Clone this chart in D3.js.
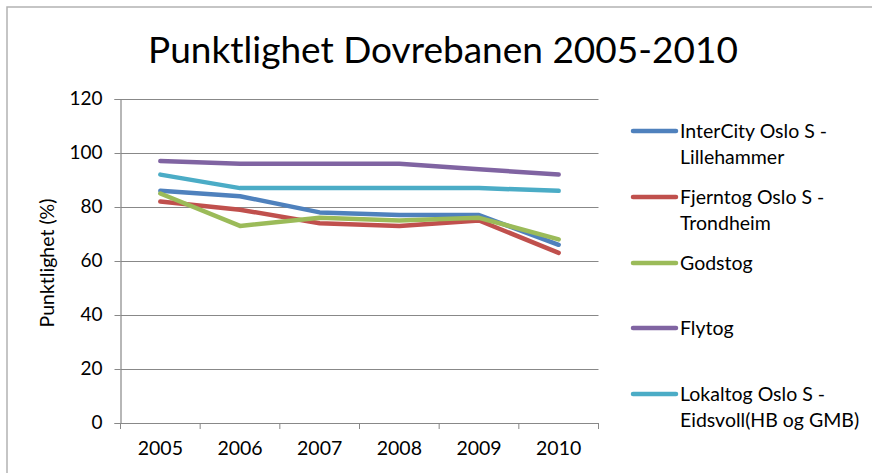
<!DOCTYPE html>
<html>
<head>
<meta charset="utf-8">
<script src="https://cdn.jsdelivr.net/npm/d3@7"></script>
<style>
  body { margin: 0; background: #fff; }
  text { font-family: Lato, "Open Sans", sans-serif; fill: #000; }
</style>
</head>
<body>
<div id="chart"></div>
<script>
// data
const years = ["2005", "2006", "2007", "2008", "2009", "2010"];
const seriesNames = [
  ["InterCity Oslo S -", "Lillehammer"],
  ["Fjerntog Oslo S -", "Trondheim"],
  ["Godstog"],
  ["Flytog"],
  ["Lokaltog Oslo S -", "Eidsvoll(HB og GMB)"]
];
const interCity = [86, 84, 78, 77, 77, 66];
const fjerntog = [82, 79, 74, 73, 75, 63];
const godstog = [85, 73, 76, 75, 76, 68];
const flytog = [97, 96, 96, 96, 94, 92];
const lokaltog = [92, 87, 87, 87, 87, 86];
const yTicks = [0, 20, 40, 60, 80, 100, 120];

const allSeries = [interCity, fjerntog, godstog, flytog, lokaltog];
const colors = ["#4F81BD", "#C0504D", "#9BBB59", "#8064A2", "#4BACC6"];

const width = 872, height = 473;
const plot = { left: 120.5, right: 598.5, top: 99, bottom: 423 };

const svg = d3.select("#chart").append("svg")
  .attr("width", width)
  .attr("height", height);

// outer chart border (runs off the right and bottom)
svg.append("rect")
  .attr("x", 7).attr("y", 7)
  .attr("width", width + 20).attr("height", height + 20)
  .attr("fill", "none")
  .attr("stroke", "#b3b3b3")
  .attr("stroke-width", 1.5);

const x = d3.scaleBand().domain(years).range([plot.left, plot.right]);
const y = d3.scaleLinear().domain([0, 120]).range([plot.bottom, plot.top]);

// gridlines
svg.append("g").selectAll("line")
  .data(yTicks.filter(d => d > 0))
  .join("line")
  .attr("x1", plot.left).attr("x2", plot.right)
  .attr("y1", d => Math.round(y(d)) + 0.5).attr("y2", d => Math.round(y(d)) + 0.5)
  .attr("stroke", "#888").attr("stroke-width", 1);

// y axis
const yAxis = svg.append("g")
  .attr("transform", "translate(" + plot.left + ",0)")
  .call(d3.axisLeft(y).tickValues(yTicks).tickSize(6).tickPadding(12));
yAxis.select(".domain").attr("stroke", "#888").attr("stroke-width", 1.2);
yAxis.selectAll(".tick line").attr("stroke", "#888");
yAxis.selectAll(".tick text").style("font-size", "19px").attr("fill", "#000").attr("dy", "0.28em");

// x axis
const xAxis = svg.append("g")
  .attr("transform", "translate(0," + plot.bottom + ")")
  .call(d3.axisBottom(x).tickSize(0).tickPadding(18));
xAxis.select(".domain").attr("stroke", "#888").attr("stroke-width", 1.2);
xAxis.selectAll(".tick text").style("font-size", "19.5px").attr("fill", "#000");
// band boundary ticks
xAxis.append("g").selectAll("line")
  .data(years.concat(["end"]))
  .join("line")
  .attr("x1", (d, i) => i < years.length ? x(d) : x(years[years.length - 1]) + x.bandwidth())
  .attr("x2", (d, i) => i < years.length ? x(d) : x(years[years.length - 1]) + x.bandwidth())
  .attr("y1", 0).attr("y2", 6)
  .attr("stroke", "#888");

// y axis title
svg.append("text")
  .attr("transform", "translate(54," + ((plot.top + plot.bottom) / 2 + 2) + ") rotate(-90)")
  .attr("text-anchor", "middle")
  .style("font-size", "19.5px")
  .text("Punktlighet (%)");

// title
const title = svg.append("text")
  .attr("x", 443).attr("y", 63)
  .attr("text-anchor", "middle")
  .style("font-size", "36px")
  .text("Punktlighet Dovrebanen 2005-2010");
const tw = title.node().getComputedTextLength();
title.style("font-size", (36 * 590 / tw) + "px");

// lines
const line = d3.line()
  .x((d, i) => x(years[i]) + x.bandwidth() / 2)
  .y(d => y(d));

svg.append("g").selectAll("path")
  .data(allSeries)
  .join("path")
  .attr("d", line)
  .attr("fill", "none")
  .attr("stroke", (d, i) => colors[i])
  .attr("stroke-width", 4.5)
  .attr("stroke-linecap", "round")
  .attr("stroke-linejoin", "round");

// legend
const legendY = [131, 197, 263, 328, 394];
const legend = svg.append("g").selectAll("g")
  .data(seriesNames)
  .join("g")
  .attr("transform", (d, i) => "translate(633," + legendY[i] + ")");

legend.append("line")
  .attr("x1", 0).attr("x2", 43)
  .attr("stroke", (d, i) => colors[i])
  .attr("stroke-width", 4.5)
  .attr("stroke-linecap", "round");

legend.each(function (lines) {
  const t = d3.select(this).append("text")
    .attr("x", 47).attr("y", 7)
    .style("font-size", "19.5px");
  lines.forEach((s, j) => {
    t.append("tspan").attr("x", 47).attr("dy", j === 0 ? 0 : 26).text(s);
  });
});
</script>
</body>
</html>
